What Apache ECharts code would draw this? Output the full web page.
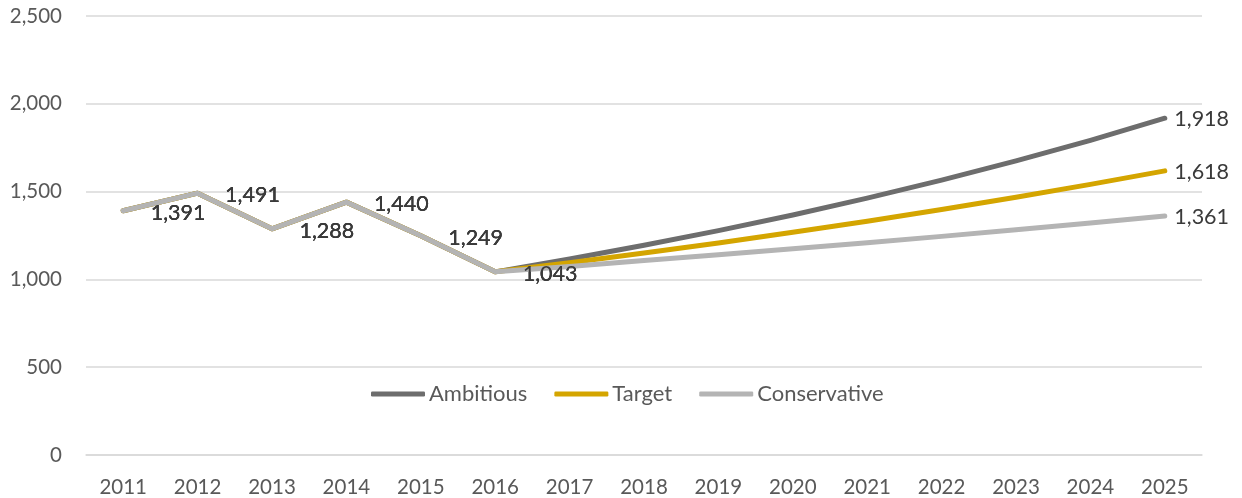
<!DOCTYPE html>
<html>
<head>
<meta charset="utf-8">
<title>Scenarios 2011–2025</title>
<script src="https://cdn.jsdelivr.net/npm/echarts@6/dist/echarts.min.js"></script>
<style>
  html, body { margin: 0; padding: 0; background: #ffffff; }
  #chart { width: 1242px; height: 498px; }
</style>
</head>
<body>
<div id="chart"></div>
<script>
// Years on the category axis
const years = ['2011', '2012', '2013', '2014', '2015', '2016', '2017', '2018',
               '2019', '2020', '2021', '2022', '2023', '2024', '2025'];

// Actuals 2011–2016, shared by every scenario
const history = [1391, 1491, 1288, 1440, 1249, 1043];

// Projections 2017–2025 per scenario
const ambitiousProj    = [1116, 1194, 1278, 1367, 1463, 1565, 1675, 1792, 1918];
const targetProj       = [1095, 1150, 1207, 1268, 1331, 1398, 1468, 1541, 1618];
const conservativeProj = [1074, 1107, 1140, 1174, 1209, 1245, 1283, 1321, 1361];

const seriesNames  = ['Ambitious', 'Target', 'Conservative'];
const seriesColors = ['#6D6D6D', '#D4A500', '#B4B4B4'];

const yTicks = { min: 0, max: 2500, interval: 500 };

const FONT = 'Lato, "Open Sans", sans-serif';
const fmt = v => v.toLocaleString('en-US');

const labelBase = { show: true, position: 'right', fontFamily: FONT, fontSize: 21.5, color: '#3A3A3A',
                    formatter: p => fmt(p.value) };

// Each scenario carries the actuals plus its projection; actuals and final year are labelled
function buildData(proj) {
  const values = history.concat(proj);
  return values.map((v, i) => {
    if (i < history.length) {
      return { value: v, label: Object.assign({}, labelBase, { distance: 27, offset: [0, 2] }) };
    }
    if (i === values.length - 1) {
      return { value: v, label: Object.assign({}, labelBase, { distance: 9, offset: [0, 1] }) };
    }
    return { value: v };
  });
}

const projections = [ambitiousProj, targetProj, conservativeProj];

const chart = echarts.init(document.getElementById('chart'), null, { renderer: 'canvas' });

chart.setOption({
  animation: false,
  backgroundColor: '#ffffff',
  grid: { left: 86, right: 40, top: 16, bottom: 42, containLabel: false },
  legend: {
    left: 366,
    top: 378,
    itemWidth: 54,
    itemHeight: 5,
    itemGap: 27,
    icon: 'roundRect',
    textStyle: { fontFamily: FONT, fontSize: 22, color: '#595959', padding: [0, 0, 0, -1] },
    data: seriesNames.map((n, i) => ({ name: n, itemStyle: { color: seriesColors[i] } }))
  },
  xAxis: {
    type: 'category',
    data: years,
    boundaryGap: true,
    axisLine: { show: true, lineStyle: { color: '#D9D9D9', width: 1.5 } },
    axisTick: { show: false },
    axisLabel: { fontFamily: FONT, fontSize: 20.5, color: '#595959', margin: 22, interval: 0 },
    splitLine: { show: false }
  },
  yAxis: {
    type: 'value',
    min: yTicks.min,
    max: yTicks.max,
    interval: yTicks.interval,
    axisLine: { show: false },
    axisTick: { show: false },
    axisLabel: { fontFamily: FONT, fontSize: 20.5, color: '#595959', margin: 24, formatter: v => fmt(v) },
    splitLine: { lineStyle: { color: '#D9D9D9', width: 1.5 } }
  },
  series: seriesNames.map((name, i) => ({
    name: name,
    type: 'line',
    data: buildData(projections[i]),
    symbol: 'circle',
    symbolSize: 1,
    showSymbol: true,
    showAllSymbol: true,
    itemStyle: { color: seriesColors[i] },
    lineStyle: { color: seriesColors[i], width: 5, cap: 'round', join: 'round' },
    emphasis: { disabled: true },
    z: 2 + i
  }))
});
</script>
</body>
</html>
